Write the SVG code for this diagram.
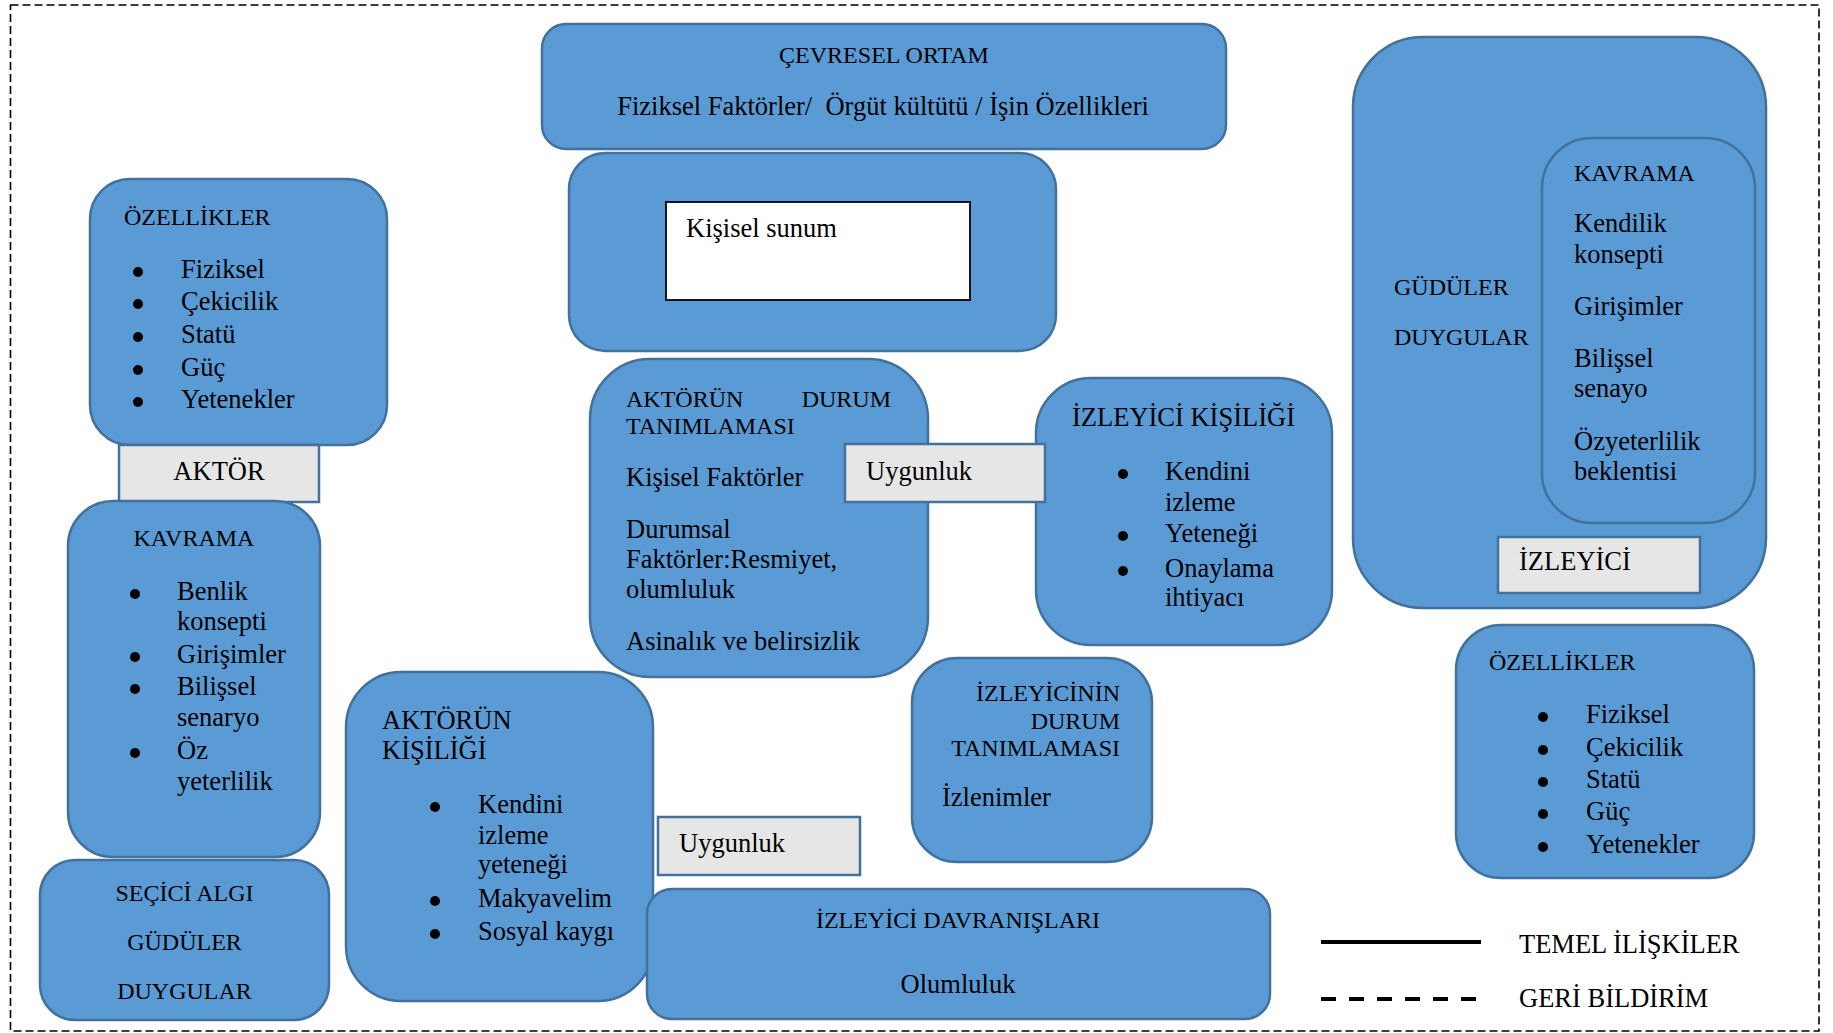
<svg xmlns="http://www.w3.org/2000/svg" width="1833" height="1033" viewBox="0 0 1833 1033">
  <style>
    .box { fill: #5b9bd5; stroke: #41719c; stroke-width: 2.5; }
    .tag { fill: #e6e6e6; stroke: #41719c; stroke-width: 2.5; }
    .plain { fill: #ffffff; stroke: #000000; stroke-width: 1.8; }
    text { font-family: "Liberation Serif", "Times New Roman", serif; fill: #000000; }
    .h { font-size: 24px; }
    .b { font-size: 26.5px; }
    .mid { text-anchor: middle; }
    .end { text-anchor: end; }
    .dot { fill: #000000; }
  </style>

  <!-- dashed frame around the whole model -->
  <rect x="10.5" y="5" width="1808.5" height="1026" fill="none" stroke="#000" stroke-width="1.6" stroke-dasharray="8 4"/>

  <!-- environment -->
  <g id="cevresel-ortam">
    <rect class="box" x="542" y="24" width="684" height="125" rx="24"/>
    <text class="h mid" x="884" y="63">ÇEVRESEL ORTAM</text>
    <text class="b mid" x="883" y="115">Fiziksel Faktörler/&#160; Örgüt kültütü / İşin Özellikleri</text>
  </g>

  <!-- self presentation -->
  <g id="kisisel-sunum">
    <rect class="box" x="569" y="153" width="487" height="198" rx="36"/>
    <rect class="plain" x="666" y="202" width="304" height="98"/>
    <text class="b" x="686" y="237">Kişisel sunum</text>
  </g>

  <!-- actor attributes -->
  <g id="aktor-ozellikler">
    <rect class="box" x="90" y="179" width="297" height="266" rx="40"/>
    <text class="h" x="124" y="225">ÖZELLİKLER</text>
    <circle class="dot" cx="138" cy="272" r="5"/>
    <circle class="dot" cx="138" cy="304" r="5"/>
    <circle class="dot" cx="138" cy="337" r="5"/>
    <circle class="dot" cx="138" cy="370" r="5"/>
    <circle class="dot" cx="138" cy="402" r="5"/>
    <text class="b" x="181" y="278">Fiziksel</text>
    <text class="b" x="181" y="310">Çekicilik</text>
    <text class="b" x="181" y="343">Statü</text>
    <text class="b" x="181" y="376">Güç</text>
    <text class="b" x="181" y="408">Yetenekler</text>
  </g>

  <g id="aktor">
    <rect class="tag" x="119" y="445" width="200" height="57"/>
    <text class="b mid" x="219" y="480">AKTÖR</text>
  </g>

  <!-- actor cognition -->
  <g id="aktor-kavrama">
    <rect class="box" x="68" y="501" width="252" height="356" rx="45"/>
    <text class="h mid" x="194" y="546">KAVRAMA</text>
    <circle class="dot" cx="135" cy="594" r="5"/>
    <circle class="dot" cx="135" cy="657" r="5"/>
    <circle class="dot" cx="135" cy="689" r="5"/>
    <circle class="dot" cx="135" cy="753" r="5"/>
    <text class="b" x="177" y="600">Benlik</text>
    <text class="b" x="177" y="630">konsepti</text>
    <text class="b" x="177" y="663">Girişimler</text>
    <text class="b" x="177" y="695">Bilişsel</text>
    <text class="b" x="177" y="726">senaryo</text>
    <text class="b" x="177" y="759">Öz</text>
    <text class="b" x="177" y="790">yeterlilik</text>
  </g>

  <g id="secici-algi">
    <rect class="box" x="40" y="860" width="289" height="160" rx="35"/>
    <text class="h mid" x="184.5" y="901">SEÇİCİ ALGI</text>
    <text class="h mid" x="184.5" y="950">GÜDÜLER</text>
    <text class="h mid" x="184.5" y="999">DUYGULAR</text>
  </g>

  <g id="aktorun-kisiligi">
    <rect class="box" x="346" y="672" width="307" height="329" rx="55"/>
    <text class="b" x="382" y="729">AKTÖRÜN</text>
    <text class="b" x="382" y="759">KİŞİLİĞİ</text>
    <circle class="dot" cx="435" cy="807" r="5"/>
    <circle class="dot" cx="435" cy="901" r="5"/>
    <circle class="dot" cx="435" cy="934" r="5"/>
    <text class="b" x="478" y="813">Kendini</text>
    <text class="b" x="478" y="844">izleme</text>
    <text class="b" x="478" y="873">yeteneği</text>
    <text class="b" x="478" y="907">Makyavelim</text>
    <text class="b" x="478" y="940">Sosyal kaygı</text>
  </g>

  <g id="aktorun-durum-tanimlamasi">
    <rect class="box" x="590" y="359" width="338" height="318" rx="60"/>
    <text class="h" x="626" y="407">AKTÖRÜN</text>
    <text class="h end" x="891" y="407">DURUM</text>
    <text class="h" x="626" y="434">TANIMLAMASI</text>
    <text class="b" x="626" y="486">Kişisel Faktörler</text>
    <text class="b" x="626" y="538">Durumsal</text>
    <text class="b" x="626" y="568">Faktörler:Resmiyet,</text>
    <text class="b" x="626" y="598">olumluluk</text>
    <text class="b" x="626" y="650">Asinalık ve belirsizlik</text>
  </g>

  <g id="izleyici-kisiligi">
    <rect class="box" x="1036" y="378" width="296" height="267" rx="55"/>
    <text class="b" x="1072" y="426">İZLEYİCİ KİŞİLİĞİ</text>
    <circle class="dot" cx="1123" cy="474" r="5"/>
    <circle class="dot" cx="1123" cy="536" r="5"/>
    <circle class="dot" cx="1123" cy="571" r="5"/>
    <text class="b" x="1165" y="480">Kendini</text>
    <text class="b" x="1165" y="511">izleme</text>
    <text class="b" x="1165" y="542">Yeteneği</text>
    <text class="b" x="1165" y="577">Onaylama</text>
    <text class="b" x="1165" y="606">ihtiyacı</text>
  </g>

  <g id="uygunluk-ust">
    <rect class="tag" x="845" y="444" width="200" height="58"/>
    <text class="b" x="866" y="480">Uygunluk</text>
  </g>

  <g id="izleyicinin-durum-tanimlamasi">
    <rect class="box" x="912" y="658" width="240" height="204" rx="45"/>
    <text class="h end" x="1120" y="701">İZLEYİCİNİN</text>
    <text class="h end" x="1120" y="729">DURUM</text>
    <text class="h end" x="1120" y="756">TANIMLAMASI</text>
    <text class="b" x="942" y="806">İzlenimler</text>
  </g>

  <g id="uygunluk-alt">
    <rect class="tag" x="658" y="817" width="202" height="58"/>
    <text class="b" x="679" y="852">Uygunluk</text>
  </g>

  <g id="izleyici-davranislari">
    <rect class="box" x="647" y="889" width="623" height="130" rx="25"/>
    <text class="h mid" x="958" y="928">İZLEYİCİ DAVRANIŞLARI</text>
    <text class="b mid" x="958" y="993">Olumluluk</text>
  </g>

  <!-- observer with nested cognition panel -->
  <g id="izleyici">
    <rect class="box" x="1353" y="37" width="413" height="571" rx="70"/>
    <text class="h" x="1394" y="295">GÜDÜLER</text>
    <text class="h" x="1394" y="345">DUYGULAR</text>
    <g id="izleyici-kavrama">
      <rect class="box" x="1542" y="138" width="213" height="385" rx="50"/>
      <text class="h" x="1574" y="181">KAVRAMA</text>
      <text class="b" x="1574" y="232">Kendilik</text>
      <text class="b" x="1574" y="263">konsepti</text>
      <text class="b" x="1574" y="315">Girişimler</text>
      <text class="b" x="1574" y="367">Bilişsel</text>
      <text class="b" x="1574" y="397">senayo</text>
      <text class="b" x="1574" y="450">Özyeterlilik</text>
      <text class="b" x="1574" y="480">beklentisi</text>
    </g>
    <rect class="tag" x="1498" y="537" width="202" height="56"/>
    <text class="b" x="1519" y="570">İZLEYİCİ</text>
  </g>

  <g id="izleyici-ozellikler">
    <rect class="box" x="1456" y="625" width="298" height="253" rx="45"/>
    <text class="h" x="1489" y="670">ÖZELLİKLER</text>
    <circle class="dot" cx="1543" cy="717" r="5"/>
    <circle class="dot" cx="1543" cy="750" r="5"/>
    <circle class="dot" cx="1543" cy="782" r="5"/>
    <circle class="dot" cx="1543" cy="814" r="5"/>
    <circle class="dot" cx="1543" cy="847" r="5"/>
    <text class="b" x="1586" y="723">Fiziksel</text>
    <text class="b" x="1586" y="756">Çekicilik</text>
    <text class="b" x="1586" y="788">Statü</text>
    <text class="b" x="1586" y="820">Güç</text>
    <text class="b" x="1586" y="853">Yetenekler</text>
  </g>

  <g id="connectors"></g>

  <!-- legend -->
  <g id="legend">
    <line x1="1321" y1="942" x2="1481" y2="942" stroke="#000" stroke-width="4"/>
    <line x1="1321" y1="999" x2="1477" y2="999" stroke="#000" stroke-width="4" stroke-dasharray="15 13"/>
    <text class="b" x="1519" y="953">TEMEL İLİŞKİLER</text>
    <text class="b" x="1519" y="1007">GERİ BİLDİRİM</text>
  </g>
</svg>
